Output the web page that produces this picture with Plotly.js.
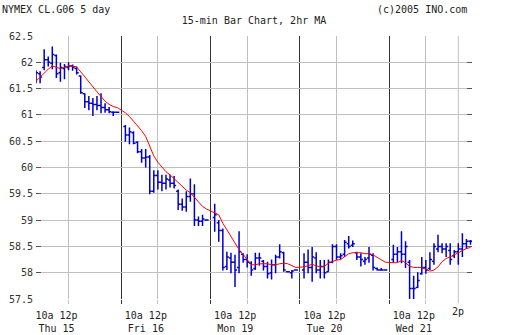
<!DOCTYPE html>
<html><head><meta charset="utf-8">
<script src="https://cdn.plot.ly/plotly-3.0.1.min.js"></script>
<style>html,body{margin:0;padding:0;background:#fff}#chart{width:512px;height:335px}</style>
</head><body><div id="chart"></div>
<script>
// ---- data ----
const dayLabels = ['Thu 15', 'Fri 16', 'Mon 19', 'Tue 20', 'Wed 21'];
const barsPerDay = [21, 21, 21, 21, 20];
const barTimes = ['10:00','10:15','10:30','10:45','11:00','11:15','11:30','11:45','12:00','12:15','12:30',
                  '12:45','13:00','13:15','13:30','13:45','14:00','14:15','14:30','14:45','15:00'];
const openP = [
  61.62,61.78,61.90,62.05,61.98,62.13,61.80,61.88,61.90,61.93,61.88,61.74,61.40,61.25,61.22,61.20,61.18,61.14,61.10,61.05,61.05,
  60.78,60.62,60.66,60.48,60.30,60.18,60.20,59.55,59.85,59.72,59.70,59.76,59.70,59.55,59.30,59.25,59.45,59.50,59.00,58.98,59.00,
  59.05,58.95,58.80,58.12,58.28,58.20,58.10,58.35,58.25,58.18,58.08,58.28,58.22,58.12,58.00,58.15,58.30,58.38,58.02,58.00,58.05,
  58.05,58.20,58.10,58.28,58.05,58.12,58.02,58.20,58.50,58.30,58.35,58.55,58.52,58.38,58.30,58.22,58.28,58.33,58.08,58.05,58.05,
  58.25,58.35,58.40,58.35,58.20,57.70,57.72,57.98,58.10,58.08,58.22,58.45,58.50,58.45,58.42,58.32,58.40,58.45,58.55,58.60
];
const highP = [
  61.85,61.83,62.25,62.11,62.30,62.15,61.99,61.97,62.00,61.96,61.92,61.75,61.41,61.36,61.32,61.36,61.41,61.22,61.15,61.07,61.06,
  60.81,60.76,60.69,60.50,60.35,60.35,60.24,59.95,59.95,59.86,59.86,59.86,59.84,59.58,59.41,59.55,59.79,59.68,59.07,59.10,59.01,
  59.31,59.00,58.84,58.40,58.38,58.34,58.79,58.37,58.35,58.22,58.38,58.38,58.24,58.21,58.25,58.34,58.54,58.40,58.03,58.05,58.06,
  58.37,58.44,58.49,58.39,58.24,58.24,58.25,58.54,58.54,58.37,58.62,58.70,58.61,58.40,58.37,58.30,58.49,58.37,58.10,58.09,58.06,
  58.53,58.49,58.79,58.60,58.24,57.94,58.01,58.30,58.24,58.39,58.56,58.72,58.56,58.56,58.56,58.43,58.56,58.75,58.64,58.62
];
const lowP = [
  61.60,61.60,61.85,61.92,61.87,61.70,61.63,61.68,61.85,61.84,61.77,61.40,61.13,61.09,60.98,61.09,61.03,61.04,61.03,60.98,61.04,
  60.49,60.44,60.44,60.27,60.09,60.00,59.49,59.52,59.58,59.55,59.58,59.62,59.60,59.19,59.18,59.16,59.35,58.89,58.89,58.89,58.99,
  58.78,58.59,58.04,58.05,57.99,57.73,57.99,58.19,58.10,57.94,58.05,58.13,58.04,57.89,57.87,57.99,58.27,58.02,58.01,57.89,58.04,
  57.89,57.99,57.83,57.99,57.89,57.89,58.02,58.18,58.24,58.25,58.30,58.46,58.49,58.24,58.12,58.15,58.19,58.04,58.04,58.04,58.04,
  58.19,58.20,58.18,58.09,57.50,57.50,57.71,57.96,57.98,58.05,58.15,58.39,58.37,58.30,58.15,58.28,58.15,58.30,58.45,58.53
];
const closeP = [
  61.80,61.72,62.05,62.00,62.15,61.78,61.90,61.92,61.93,61.90,61.80,61.42,61.25,61.22,61.20,61.18,61.14,61.10,61.06,61.05,61.05,
  60.62,60.68,60.46,60.30,60.18,60.20,59.55,59.85,59.72,59.70,59.78,59.70,59.66,59.30,59.25,59.45,59.50,59.00,58.98,59.02,59.00,
  59.10,58.80,58.10,58.30,58.20,58.05,58.40,58.25,58.20,58.05,58.28,58.28,58.12,57.98,58.15,58.30,58.40,58.05,58.02,58.03,58.05,
  58.20,58.10,58.30,58.05,58.12,58.00,58.20,58.50,58.30,58.32,58.58,58.50,58.55,58.30,58.25,58.25,58.35,58.10,58.05,58.05,58.05,
  58.35,58.40,58.35,58.50,57.70,57.70,57.85,58.10,58.05,58.25,58.50,58.50,58.45,58.50,58.25,58.40,58.45,58.55,58.60,58.60
];
const ma2hr = [
  61.64,61.72,61.80,61.87,61.93,61.91,61.88,61.90,61.93,61.93,61.91,61.82,61.72,61.62,61.52,61.44,61.35,61.26,61.20,61.16,61.14,
  61.04,60.97,60.88,60.80,60.70,60.59,60.42,60.22,60.10,60.00,59.92,59.86,59.79,59.71,59.64,59.57,59.52,59.44,59.35,59.26,59.21,
  59.14,59.10,58.94,58.81,58.68,58.57,58.44,58.35,58.24,58.15,58.15,58.17,58.17,58.17,58.15,58.15,58.17,58.18,58.17,58.13,58.10,
  58.11,58.14,58.16,58.13,58.11,58.12,58.18,58.21,58.24,58.25,58.30,58.36,58.38,58.38,58.38,58.36,58.36,58.34,58.29,58.24,58.20,
  58.19,58.19,58.23,58.19,58.12,58.10,58.10,58.10,58.06,58.03,58.05,58.11,58.21,58.27,58.30,58.34,58.38,58.43,58.46,58.48
];
const yTickVals = [57.5, 58, 58.5, 59, 59.5, 60, 60.5, 61, 61.5, 62, 62.5];
const yTickText = ['57.5','58','58.5','59','59.5','60','60.5','61','61.5','62','62.5'];
const noonLabel = '10a 12p';
const extraHour = { day: 4, time: '14:00', label: '2p' };

// ---- helpers (slots of 15 minutes since 9:45 in a 22-slot trading day) ----
const SLOTS = 22;
function slot(t) { const [h, m] = t.split(':').map(Number); return (h * 60 + m - 585) / 15; }
function xOf(d, t) { return d * SLOTS + slot(t); }

const xs = [];
dayLabels.forEach((_, d) => { for (let k = 0; k < barsPerDay[d]; k++) xs.push(xOf(d, barTimes[k])); });

// major x ticks: noon grid lines (light) carrying the day labels; minor: day separators (dark)
const noonVals = dayLabels.map((_, d) => xOf(d, '12:00'));
const noonText = dayLabels.map(lab => noonLabel + '<br>' + lab);
const dayStarts = dayLabels.map((_, d) => xOf(d, '09:45'));
const extraX = xOf(extraHour.day, extraHour.time);

const xRange = [0.985, 108.37];
const yRange = [57.5, 62.5];
const FONT = 'DejaVu Sans Mono';
const txt = '#222';

const traces = [
  { type: 'ohlc', x: xs, open: openP, high: highP, low: lowP, close: closeP,
    xaxis: 'x', yaxis: 'y', tickwidth: 0.5, hoverinfo: 'skip', showlegend: false,
    increasing: { line: { color: '#0000cc', width: 1.5 } },
    decreasing: { line: { color: '#0000cc', width: 1.5 } } },
  { type: 'scatter', mode: 'lines', x: xs, y: ma2hr, xaxis: 'x', yaxis: 'y',
    line: { color: '#ff0000', width: 1 }, hoverinfo: 'skip', showlegend: false }
];

const layout = {
  width: 512, height: 335,
  margin: { l: 36, r: 40, t: 36, b: 36 },
  paper_bgcolor: '#fff', plot_bgcolor: '#fff',
  showlegend: false,
  font: { family: FONT, size: 10, color: txt },
  title: { text: '15-min Bar Chart, 2hr MA', x: 0.5, xref: 'paper', y: 0.94, yref: 'container',
           xanchor: 'center', yanchor: 'middle', font: { family: FONT, size: 10, color: txt } },
  annotations: [
    { text: 'NYMEX CL.G06 5 day', xref: 'paper', yref: 'paper', x: -0.083, y: 1.099,
      xanchor: 'left', yanchor: 'middle', showarrow: false, font: { family: FONT, size: 10, color: txt } },
    { text: '(c)2005 INO.com', xref: 'paper', yref: 'paper', x: 0.992, y: 1.099,
      xanchor: 'right', yanchor: 'middle', showarrow: false, font: { family: FONT, size: 10, color: txt } },
    { text: extraHour.label, xref: 'x', yref: 'paper', x: extraX, y: -0.048,
      xanchor: 'center', yanchor: 'middle', showarrow: false, font: { family: FONT, size: 10, color: txt } }
  ],
  xaxis: { range: xRange, tickmode: 'array', tickvals: noonVals, ticktext: noonText, tickangle: 0,
           showgrid: true, gridcolor: '#c0c0c0', gridwidth: 1,
           ticks: 'outside', ticklen: 4, tickcolor: '#c0c0c0', tickwidth: 1,
           ticklabelshift: -12, ticklabelstandoff: 3,
           minor: { tickmode: 'array', tickvals: dayStarts, showgrid: true, gridcolor: '#333', gridwidth: 1,
                    ticks: 'outside', ticklen: 4, tickcolor: '#333', tickwidth: 1 },
           zeroline: false, showline: false, rangeslider: { visible: false }, fixedrange: true,
           tickfont: { family: FONT, size: 10, color: txt } },
  yaxis: { range: yRange, tickmode: 'array', tickvals: yTickVals, ticktext: yTickText,
           showgrid: false, zeroline: false, showline: false, mirror: 'ticks',
           ticks: 'inside', ticklen: 5, tickcolor: '#555', tickwidth: 1, fixedrange: true, ticklabelstandoff: 2,
           minor: { tickmode: 'array', tickvals: yTickVals.slice(1), showgrid: true, gridcolor: '#c0c0c0',
                    gridwidth: 1, ticks: '' },
           tickfont: { family: FONT, size: 10, color: '#333' } },
  shapes: [
    { type: 'line', xref: 'x', yref: 'paper', x0: extraX, x1: extraX, y0: 1, y1: -0.0152,
      line: { color: '#c0c0c0', width: 1 }, layer: 'below' }
  ]
};

Plotly.newPlot('chart', traces, layout, { staticPlot: true, displayModeBar: false });
</script></body></html>
